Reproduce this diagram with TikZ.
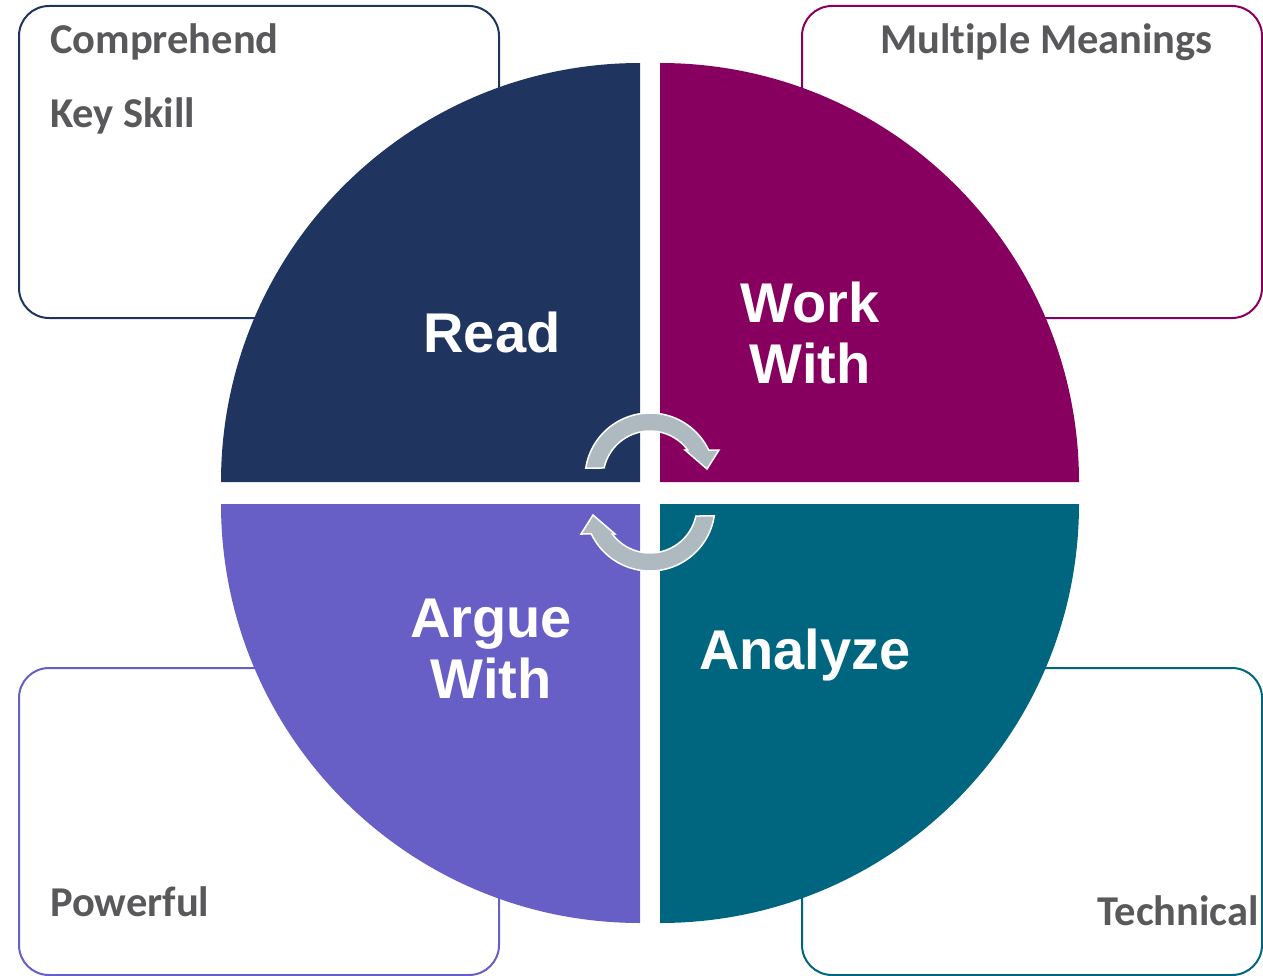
\documentclass[tikz,border=0pt]{standalone}
\usepackage{fontspec}
\setmainfont{Liberation Sans}
\newfontfamily\carlito[Ligatures=NoCommon]{Carlito}
\definecolor{qnavy}{RGB}{31,53,96}
\definecolor{qplum}{RGB}{135,0,96}
\definecolor{qviolet}{RGB}{103,94,198}
\definecolor{qteal}{RGB}{0,102,127}
\definecolor{textgray}{RGB}{89,89,91}
\definecolor{arrowgray}{RGB}{174,186,192}
\begin{document}
\begin{tikzpicture}[x=1pt,y=1pt,
  box/.style={draw, line width=2pt, rounded corners=30pt},
  small/.style={font=\carlito\bfseries\fontsize{42.5}{50}\selectfont, text=textgray, inner sep=0pt},
  big/.style={font=\bfseries\fontsize{56}{61}\selectfont, text=white, inner sep=0pt, align=center},
  cyc/.style={fill=arrowgray, draw=white, line width=1.5pt}]
\useasboundingbox (0,0) rectangle (1263,-976);
% boxes
\draw[box, qnavy] (19,-6) rectangle (499,-318);
\draw[box, qplum] (802,-6) rectangle (1262,-318);
\draw[box, qviolet] (19,-668) rectangle (499,-975);
\draw[box, qteal] (802,-668) rectangle (1262,-975);
% quadrants
\fill[qnavy] (640,-482) -- (221,-482) arc[start angle=180, end angle=90, radius=419] -- cycle;
\fill[qplum] (660,-482) -- (660,-63) arc[start angle=90, end angle=0, radius=419] -- cycle;
\fill[qviolet] (640,-504) -- (221,-504) arc[start angle=180, end angle=270, radius=419] -- cycle;
\fill[qteal] (660,-504) -- (1079,-504) arc[start angle=0, end angle=-90, radius=419] -- cycle;
% cycle arrows
\def\cyclearrow{(171.2:65) arc[start angle=171.2, end angle=25.5, radius=65] -- (69,28) -- (57,9) -- (35,28) -- (36.6:47) arc[start angle=36.6, end angle=167.7, radius=47] -- cycle}
\begin{scope}[shift={(650,-478)}]
  \draw[cyc] \cyclearrow;
\end{scope}
\begin{scope}[shift={(650,-506)}, rotate=180]
  \draw[cyc] \cyclearrow;
\end{scope}
% quadrant labels
\node[big, anchor=base] (read) at (492,-352) {Read};
\node[big, anchor=center] (work) at (810,-332.5) {Work\\With};
\node[big, anchor=center] (argue) at (491,-648.5) {Argue\\With};
\node[big, anchor=base] (analyze) at (805,-669) {Analyze};
% box texts
\node[small, anchor=base west] (comp) at (50,-54) {Comprehend};
\node[small, anchor=base west] (key) at (50,-128) {Key Skill};
\node[small, anchor=base west] (multi) at (880,-54) {Multiple Meanings};
\node[small, anchor=base west] (power) at (50,-916) {Powerful};
\node[small, anchor=base east] (tech) at (1259,-925) {Technical};
\end{tikzpicture}
\end{document}
